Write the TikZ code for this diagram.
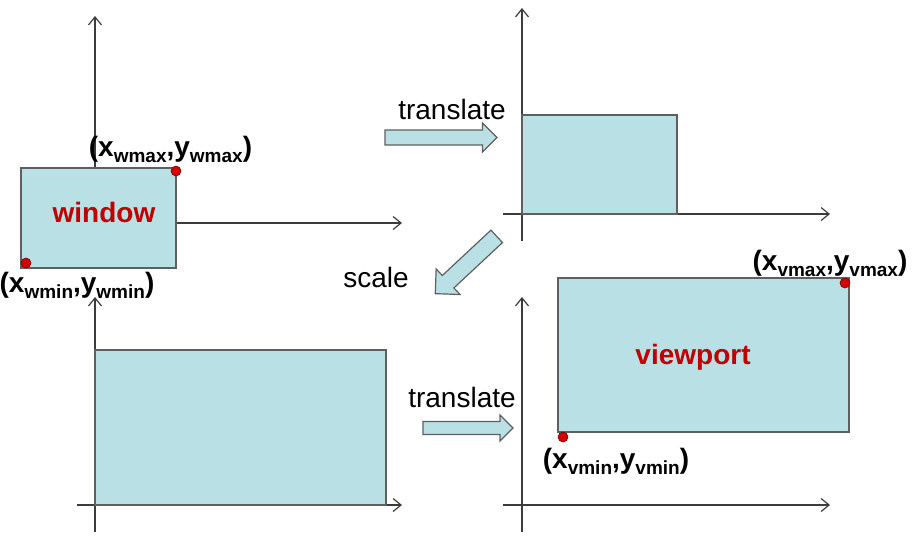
\documentclass[tikz,border=0pt]{standalone}
\usepackage{fontspec}
\setmainfont{Liberation Sans}
\usetikzlibrary{arrows.meta}
\definecolor{boxfill}{RGB}{185,224,228}
\definecolor{edgegray}{RGB}{95,95,95}
\definecolor{axisgray}{RGB}{60,60,60}
\definecolor{textred}{RGB}{192,0,0}
\definecolor{dotred}{RGB}{210,0,0}
\definecolor{dotedge}{RGB}{120,0,0}
\newcommand{\lsub}[1]{\raisebox{-6pt}{\fontsize{19}{19}\selectfont #1}}
% name, x, y, angle, length, shaft half width, head half width
\newcommand{\blockarrow}[7]{%
  \begin{scope}[shift={(#2,#3)}, rotate=#4]
    \coordinate (#1) at (0,0);
    \draw[blk] (-#5/2,-#6) -- (#5/2-#7,-#6) -- (#5/2-#7,-#7) -- (#5/2,0)
      -- (#5/2-#7,#7) -- (#5/2-#7,#6) -- (-#5/2,#6) -- cycle;
  \end{scope}}
\tikzset{
  axis/.style={draw=axisgray, line width=1.2pt, -{Straight Barb[length=8pt,width=13pt,line width=1.2pt]}},
  panel/.style={fill=boxfill, draw=edgegray, line width=1.6pt},
  blk/.style={fill=boxfill, draw=edgegray, line width=1.2pt, line join=miter},
  dot/.style={circle, fill=dotred, draw=dotedge, line width=0.6pt, inner sep=0pt, minimum size=10pt},
  lbl/.style={font=\fontsize{28}{30}\selectfont, text=black, anchor=base, inner sep=0pt},
  coordlbl/.style={font=\bfseries\fontsize{28}{30}\selectfont, text=black, anchor=base, inner sep=0pt},
  redlbl/.style={font=\bfseries\fontsize{28}{30}\selectfont, text=textred, anchor=base, inner sep=0pt},
}
\begin{document}
\begin{tikzpicture}[x=1pt,y=-1pt]
\useasboundingbox (0,0) rectangle (916,550);
% ---------- top-left panel (window)
\coordinate (tlYs) at (95,245); \coordinate (tlYe) at (95,16);
\coordinate (tlXs) at (77,223); \coordinate (tlXe) at (402,223);
\draw[axis] (tlYs) -- (tlYe);
\draw[axis] (tlXs) -- (tlXe);
\coordinate (winA) at (21,168); \coordinate (winB) at (176,268);
\draw[panel] (winA) rectangle (winB);
\node[redlbl] (winlbl) at (104,222) {window};
\node[dot] (wmax) at (176,171) {};
\node[dot] (wmin) at (26,263) {};
\node[coordlbl] (wmaxlbl) at (170.5,156) {(x\lsub{wmax},y\lsub{wmax})};
\node[coordlbl] (wminlbl) at (77,292) {(x\lsub{wmin},y\lsub{wmin})};
% ---------- top-right panel
\coordinate (trYs) at (522,241); \coordinate (trYe) at (522,8);
\coordinate (trXs) at (503,214); \coordinate (trXe) at (830,214);
\draw[axis] (trYs) -- (trYe);
\draw[axis] (trXs) -- (trXe);
\coordinate (trA) at (522,115); \coordinate (trB) at (677,214);
\draw[panel] (trA) rectangle (trB);
% ---------- bottom-left panel
\coordinate (blYs) at (95,532); \coordinate (blYe) at (95,297);
\coordinate (blXs) at (77,505); \coordinate (blXe) at (402,505);
\draw[axis] (blYs) -- (blYe);
\draw[axis] (blXs) -- (blXe);
\coordinate (blA) at (95,350); \coordinate (blB) at (386,505);
\draw[panel] (blA) rectangle (blB);
% ---------- bottom-right panel (viewport)
\coordinate (brYs) at (522,532); \coordinate (brYe) at (522,297);
\coordinate (brXs) at (503,505); \coordinate (brXe) at (830,505);
\draw[axis] (brYs) -- (brYe);
\draw[axis] (brXs) -- (brXe);
\coordinate (vpA) at (558,278); \coordinate (vpB) at (849,432);
\draw[panel] (vpA) rectangle (vpB);
\node[redlbl] (vplbl) at (693,364) {viewport};
\node[dot] (vmax) at (845,283) {};
\node[dot] (vmin) at (563,437) {};
\node[coordlbl] (vmaxlbl) at (830,270) {(x\lsub{vmax},y\lsub{vmax})};
\node[coordlbl] (vminlbl) at (616,468) {(x\lsub{vmin},y\lsub{vmin})};
% ---------- transformation arrows
\blockarrow{arrT}{441}{137.5}{0}{112}{7.5}{14.5}
\node[lbl] (transT) at (452,119) {translate};
\blockarrow{arrS}{466}{265}{223}{84}{8.5}{17.5}
\node[lbl] (scaleL) at (376,287) {scale};
\blockarrow{arrB}{468}{428}{0}{90}{6.5}{13}
\node[lbl] (transB) at (462,407) {translate};
\end{tikzpicture}
\end{document}
